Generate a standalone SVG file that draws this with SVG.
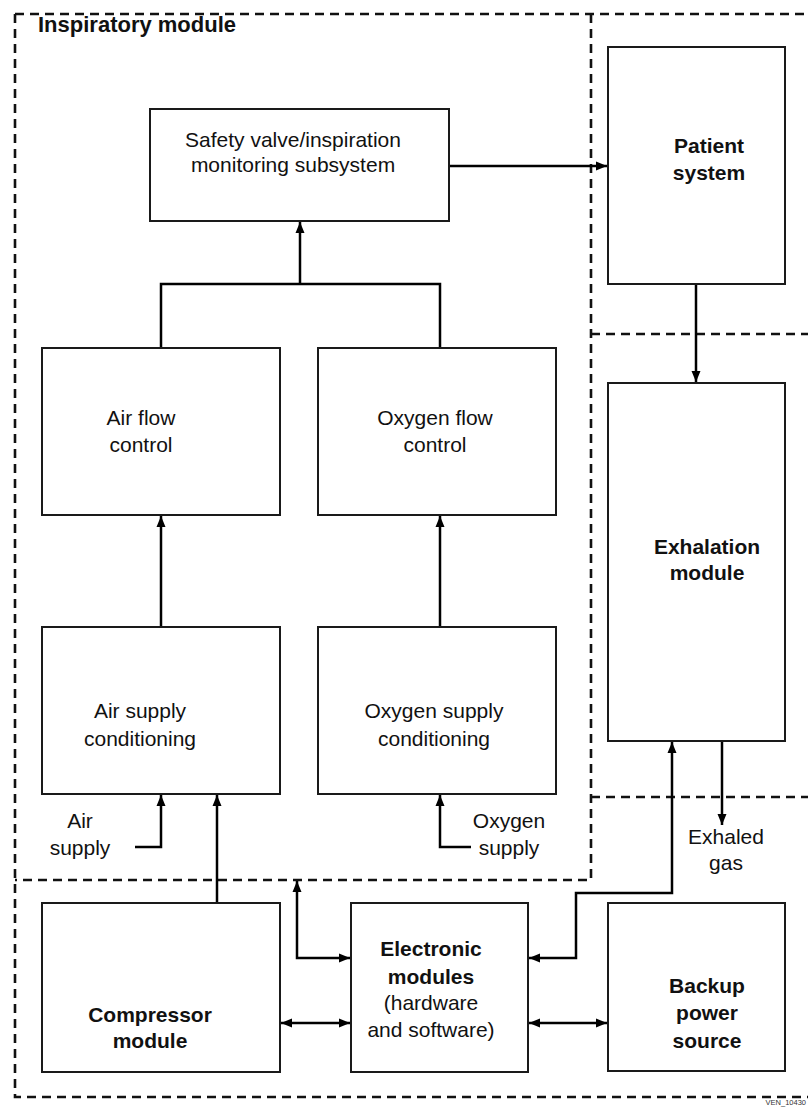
<svg xmlns="http://www.w3.org/2000/svg" width="808" height="1110" viewBox="0 0 808 1110">
<style>
.bg{fill:#fff}
.box{fill:#fff;stroke:#1a1a1a;stroke-width:2}
.dash{fill:none;stroke:#111;stroke-width:2.6;stroke-dasharray:9 6}
.con{fill:none;stroke:#000;stroke-width:2.5}
text{font-family:"Liberation Sans",Arial,sans-serif;font-size:21px;fill:#111;text-anchor:middle}
.b{font-weight:bold}
.title{font-size:22px;font-weight:bold;text-anchor:start}
.tag{font-size:7.5px;fill:#333;text-anchor:end}
</style>
<defs>
<marker id="ah" markerUnits="userSpaceOnUse" markerWidth="12" markerHeight="10" refX="11" refY="5" orient="auto-start-reverse" viewBox="0 0 12 10">
<path d="M0,0.5 L11,5 L0,9.5 z" fill="#000"/>
</marker>
</defs>
<rect class="bg" x="0" y="0" width="808" height="1110"/>
<g id="boundaries">
<path class="dash" d="M15,14 H808"/>
<path class="dash" d="M15,14 V1097 H808"/>
<path class="dash" d="M591,14 V880 H15"/>
<path class="dash" d="M591,334 H808"/>
<path class="dash" d="M591,797 H808"/>
<text class="title" x="38" y="32">Inspiratory module</text>
</g>
<g id="connectors">
<path class="con" d="M449,166 H607" marker-end="url(#ah)"/>
<path class="con" d="M696,284 V382" marker-end="url(#ah)"/>
<path class="con" d="M722,741 V825" marker-end="url(#ah)"/>
<path class="con" d="M529,958 H576 V893 H672 V742" marker-start="url(#ah)" marker-end="url(#ah)"/>
<path class="con" d="M161,348 V284 H440 V348"/>
<path class="con" d="M300,284 V222" marker-end="url(#ah)"/>
<path class="con" d="M161,627 V516" marker-end="url(#ah)"/>
<path class="con" d="M440,627 V516" marker-end="url(#ah)"/>
<path class="con" d="M135,847 H161 V795" marker-end="url(#ah)"/>
<path class="con" d="M471,847 H440 V795" marker-end="url(#ah)"/>
<path class="con" d="M217,903 V795" marker-end="url(#ah)"/>
<path class="con" d="M297,881 V958 H350" marker-start="url(#ah)" marker-end="url(#ah)"/>
<path class="con" d="M281,1023 H350" marker-start="url(#ah)" marker-end="url(#ah)"/>
<path class="con" d="M529,1023 H607" marker-start="url(#ah)" marker-end="url(#ah)"/>
</g>
<g id="safety-valve">
<rect class="box" x="150" y="109" width="299" height="112"/>
<text x="293" y="147">Safety valve/inspiration</text>
<text x="293" y="172">monitoring subsystem</text>
</g>
<g id="patient-system">
<rect class="box" x="608" y="47" width="177" height="237"/>
<text class="b" x="709" y="153">Patient</text>
<text class="b" x="709" y="180">system</text>
</g>
<g id="air-flow-control">
<rect class="box" x="42" y="348" width="238" height="167"/>
<text x="141" y="425">Air flow</text>
<text x="141" y="452">control</text>
</g>
<g id="oxygen-flow-control">
<rect class="box" x="318" y="348" width="238" height="167"/>
<text x="435" y="425">Oxygen flow</text>
<text x="435" y="452">control</text>
</g>
<g id="air-supply-conditioning">
<rect class="box" x="42" y="627" width="238" height="167"/>
<text x="140" y="718">Air supply</text>
<text x="140" y="746">conditioning</text>
</g>
<g id="oxygen-supply-conditioning">
<rect class="box" x="318" y="627" width="238" height="167"/>
<text x="434" y="718">Oxygen supply</text>
<text x="434" y="746">conditioning</text>
</g>
<g id="exhalation-module">
<rect class="box" x="608" y="383" width="177" height="358"/>
<text class="b" x="707" y="554">Exhalation</text>
<text class="b" x="707" y="580">module</text>
</g>
<g id="air-supply">
<text x="80" y="828">Air</text>
<text x="80" y="855">supply</text>
</g>
<g id="oxygen-supply">
<text x="509" y="828">Oxygen</text>
<text x="509" y="855">supply</text>
</g>
<g id="exhaled-gas">
<text x="726" y="844">Exhaled</text>
<text x="726" y="870">gas</text>
</g>
<g id="compressor-module">
<rect class="box" x="42" y="903" width="238" height="169"/>
<text class="b" x="150" y="1022">Compressor</text>
<text class="b" x="150" y="1048">module</text>
</g>
<g id="electronic-modules">
<rect class="box" x="351" y="903" width="177" height="169"/>
<text class="b" x="431" y="956">Electronic</text>
<text class="b" x="431" y="984">modules</text>
<text x="431" y="1010">(hardware</text>
<text x="431" y="1037">and software)</text>
</g>
<g id="backup-power-source">
<rect class="box" x="608" y="903" width="177" height="168"/>
<text class="b" x="707" y="993">Backup</text>
<text class="b" x="707" y="1020">power</text>
<text class="b" x="707" y="1048">source</text>
</g>
<text class="tag" x="806" y="1105">VEN_10430</text>
</svg>
